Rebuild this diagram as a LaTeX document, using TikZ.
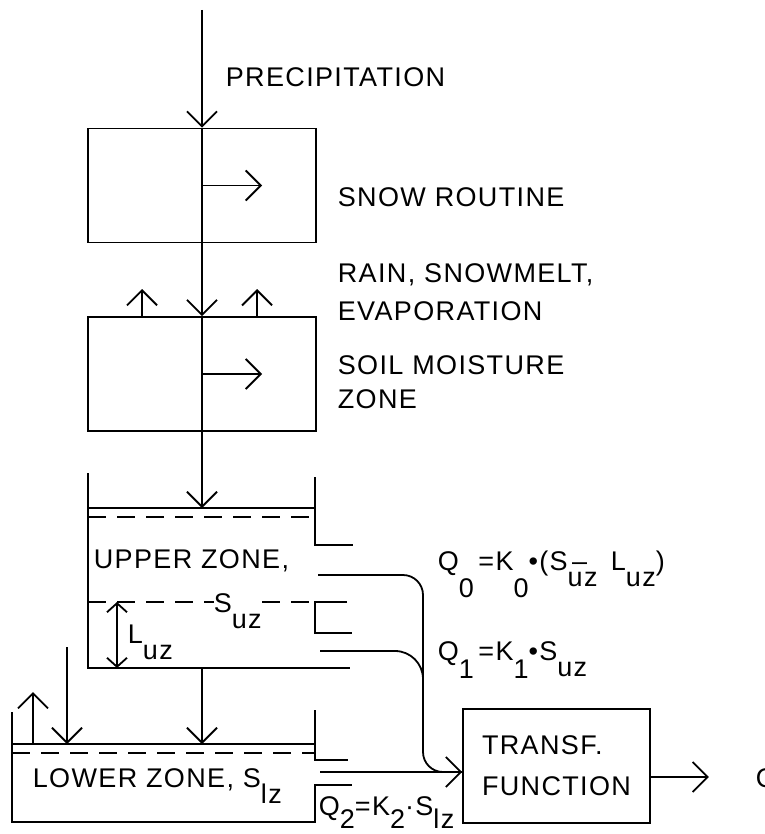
\documentclass[tikz,border=0pt]{standalone}
\usepackage{fontspec}
\setmainfont{Liberation Sans}[LetterSpace=5]
\usetikzlibrary{arrows.meta,positioning,calc}
\newcommand{\dsub}[2][0.6em]{\raisebox{-#1}{#2}}
\tikzset{
  >={Straight Barb[length=15pt,width=30pt]},
  small/.style={{Straight Barb[length=9pt,width=20pt]}-{Straight Barb[length=9pt,width=20pt]}},
  box/.style={draw,minimum width=228pt,minimum height=114pt,inner sep=0pt},
  lbl/.style={anchor=base west,inner sep=0pt},
  level/.style={dash pattern=on 18pt off 11pt},
}

\begin{document}
\begin{tikzpicture}[
x=1pt,y=-1pt,
line width=1.8pt,
font=\fontsize{27}{38}\selectfont
]
\useasboundingbox (0,0) rectangle (764,834);

% blocks
\node[box] (snow) at (202,185.5) {};
\node[box] (soil) at (202,374) {};
\node[box,minimum width=187pt,align=left,font=\fontsize{27}{41}\selectfont]
  (transf) at (556.5,766) {TRANSF.\\FUNCTION};

\coordinate (top) at (202,10);
\coordinate (uzsurf) at (202,508);
\coordinate (uzbot) at (202,668);
\coordinate (lzsurf) at (202,744);
\coordinate (tin) at ([yshift=-6pt]transf.west);
\coordinate (tout) at ([yshift=-11pt]transf.east);
\coordinate (qout) at ($(tout)+(58,0)$);

% main path
\draw[->] (top) -- (snow.north);
\draw (snow.north) -- (snow.south);
\draw[->] (snow.center) -- ++(60,0);
\draw[->] (snow.south) -- (soil.north);
\draw (soil.north) -- (soil.south);
\draw[->] (soil.center) -- ++(60,0);
\draw[->] ($(soil.north west)+(55,0)$) -- ++(0,-27);
\draw[->] ($(soil.north west)+(170,0)$) -- ++(0,-27);
\draw[->] (soil.south) -- (uzsurf);

% upper zone
\draw (88,473) -- (88,668) -- (350,668);
\draw (315,477) -- (315,545) -- (353,545);
\draw (347,602) -- (315,602) -- (315,633) -- (352,633);
\draw (88,508) -- (315,508);
\draw[level] (88,517) -- (315,517);
\draw[level] (88,602) -- (315,602);
\draw[small] (117,602) -- (117,668);
\node[lbl] (uzlbl) at (93,568) {UPPER ZONE,};
\node[lbl,fill=white] (suz) at (213,612) {S\dsub{uz}};
\node[lbl] (luz) at (127,643) {L\dsub{uz}};

% outflows
\draw[rounded corners=20pt] (318,575) -| (423,772) -- (tin);
\draw[rounded corners=28pt] (320,651) -| (423,710);
\draw[->] (320,772) -- (tin);
\draw[->] (tout) -- (qout);
\node[lbl] (q0) at (437,570)
  {Q\dsub[1.0em]{0}\,=K\dsub[1.0em]{0}\textbullet(S\rlap{\,–}\dsub{uz}\, L\dsub{uz})};
\node[lbl] (q1) at (437,660) {Q\dsub[0.7em]{1}\,=K\dsub[0.7em]{1}\textbullet S\dsub{uz}};
\node[lbl] (q2) at (318,815) {Q\dsub[0.5em]{2}=K\dsub[0.5em]{2}\textperiodcentered S\dsub[0.5em]{lz}};
\node[lbl] (qlbl) at (755,787) {Q};

% lower zone
\draw (12,712) -- (12,822) -- (315,822) -- (315,785) -- (352,785);
\draw (315,710) -- (315,760) -- (348,760);
\draw (12,744) -- (315,744);
\draw[level] (12,753) -- (315,753);
\draw[->] (33,744) -- (33,692);
\draw[->] (67,647) -- (67,744);
\draw[->] (uzbot) -- (lzsurf);
\node[lbl] (lzlbl) at (32,787) {LOWER ZONE, S\dsub{lz}};

% labels right
\node[lbl] (prec) at (225,87) {PRECIPITATION};
\node[lbl] (snowlbl) at (337,207) {SNOW ROUTINE};
\node[anchor=north west,inner sep=0pt,align=left] (rain) at (337,263)
  {RAIN, SNOWMELT,\\EVAPORATION};
\node[anchor=north west,inner sep=0pt,align=left,font=\fontsize{27}{34}\selectfont]
  (soillbl) at (337,355) {SOIL MOISTURE\\ZONE};
\end{tikzpicture}
\end{document}
